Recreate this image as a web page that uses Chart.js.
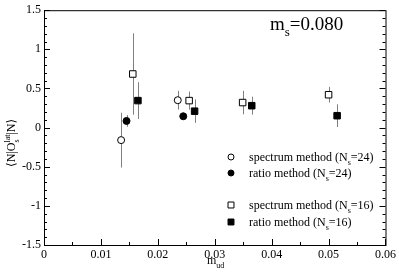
<!DOCTYPE html>
<html>
<head>
<meta charset="utf-8">
<script src="https://cdn.jsdelivr.net/npm/chart.js@4/dist/chart.umd.min.js"></script>
<style>
html,body{margin:0;padding:0;background:#fff}
#wrap{width:399px;height:273px}
</style>
</head>
<body>
<div id="wrap"><canvas id="c"></canvas></div>
<script>
// spectrum method, Ns=24
const specX24=[0.01355,0.0235]
const specY24=[-0.16,0.35]
const specE24=[0.35,0.12]
// ratio method, Ns=24
const ratioX24=[0.0145,0.02447]
const ratioY24=[0.085,0.145]
const ratioE24=[0.075,0.02]
// spectrum method, Ns=16
const specX16=[0.0156,0.0255,0.0349,0.0500]
const specY16=[0.685,0.345,0.32,0.42]
const specE16=[0.52,0.115,0.15,0.1]
// ratio method, Ns=16
const ratioX16=[0.0165,0.02646,0.0365,0.0515]
const ratioY16=[0.345,0.21,0.28,0.152]
const ratioE16=[0.235,0.15,0.115,0.145]

const legendNames=["spectrum method","ratio method","spectrum method","ratio method"]
const legendNs=["24","24","16","16"]
const xTicks=[0,0.01,0.02,0.03,0.04,0.05,0.06]
const yTicks=[-1.5,-1,-0.5,0,0.5,1,1.5]

const FONT="'Liberation Serif','DejaVu Serif',serif"

function pts(xs,ys,es){
return xs.map((x,i)=>({x:x,y:ys[i],e:es[i]}))
}

// draw text pieces: s=0 normal, s=1 subscript
function rich(ctx,x,y,parts,size){
parts.forEach(p=>{
let fs=p.s?Math.round(size*0.7):size
ctx.font=fs+"px "+FONT
let dy=p.s==1?size*0.3:(p.s==-1?-size*0.4:0)
ctx.fillText(p.t,x,y+dy)
x+=ctx.measureText(p.t).width
})
return x
}

const errorBars={
id:'errorBars',
beforeDatasetsDraw(chart){
let ctx=chart.ctx
let ys=chart.scales.y,xs=chart.scales.x
ctx.save()
ctx.strokeStyle="#808080"
ctx.lineWidth=1
chart.data.datasets.forEach(ds=>{
ds.data.forEach(p=>{
let px=Math.round(xs.getPixelForValue(p.x))+0.5
ctx.beginPath()
ctx.moveTo(px,ys.getPixelForValue(p.y+p.e))
ctx.lineTo(px,ys.getPixelForValue(p.y-p.e))
ctx.stroke()
})
})
ctx.restore()
}
}

const frame={
id:'frame',
afterDraw(chart){
let ctx=chart.ctx
let a=chart.chartArea
let xs=chart.scales.x,ys=chart.scales.y
ctx.save()
ctx.strokeStyle="#000"
ctx.lineWidth=1
ctx.strokeRect(a.left+0.5,a.top+0.5,a.right-a.left,a.bottom-a.top)
ctx.beginPath()
// x ticks, bottom, inward
for(let v=0;v<=0.0601;v+=0.005){
let px=Math.round(xs.getPixelForValue(v))+0.5
let major=Math.abs(v/0.01-Math.round(v/0.01))<1e-6
ctx.moveTo(px,a.bottom)
ctx.lineTo(px,a.bottom-(major?6:3))
}
// y ticks, left and right, inward
for(let i=-15;i<=15;i++){
let py=Math.round(ys.getPixelForValue(i/10))+0.5
let major=i%5==0
ctx.moveTo(a.left,py)
ctx.lineTo(a.left+(major?6:3),py)
ctx.moveTo(a.right,py)
ctx.lineTo(a.right-(major?6:3),py)
}
ctx.stroke()

ctx.fillStyle="#000"
ctx.textBaseline="alphabetic"
ctx.textAlign="left"
// x title
rich(ctx,207,264,[{t:"m",s:0},{t:"ud",s:1}],12)
// mass label
rich(ctx,270,30,[{t:"m",s:0},{t:"s",s:1},{t:"=0.080",s:0}],19)

// y title, rotated
ctx.save()
ctx.translate(15,167)
ctx.rotate(-Math.PI/2)
let x=rich(ctx,0,0,[{t:"\u27E8N|O",s:0}],12)
ctx.font="8px "+FONT
let w=Math.max(ctx.measureText("s").width,ctx.measureText("lat").width)
ctx.fillText("s",x,3.6)
ctx.fillText("lat",x,-5)
rich(ctx,x+w,0,[{t:"|N\u27E9",s:0}],12)
ctx.restore()

// legend
let rows=[157,173,205,222]
chart.data.datasets.forEach((ds,i)=>{
let o={pointStyle:ds.pointStyle,radius:ds.pointStyle=='rect'?4.2:3,rotation:0,borderWidth:1}
ctx.fillStyle=ds.backgroundColor
ctx.strokeStyle=ds.borderColor
ctx.lineWidth=1
Chart.helpers.drawPoint(ctx,o,231,rows[i])
ctx.fillStyle="#000"
rich(ctx,249,rows[i]+4,[{t:legendNames[i]+" (N",s:0},{t:"s",s:1},{t:"="+legendNs[i]+")",s:0}],12)
})
ctx.restore()
}
}

new Chart(document.getElementById("c"),{
type:'scatter',
data:{
datasets:[
{label:'spectrum24',data:pts(specX24,specY24,specE24),pointStyle:'circle',pointRadius:3.5,backgroundColor:'#fff',borderColor:'#000',borderWidth:1},
{label:'ratio24',data:pts(ratioX24,ratioY24,ratioE24),pointStyle:'circle',pointRadius:3.5,backgroundColor:'#000',borderColor:'#000',borderWidth:1},
{label:'spectrum16',data:pts(specX16,specY16,specE16),pointStyle:'rect',pointRadius:4.6,backgroundColor:'#fff',borderColor:'#000',borderWidth:1},
{label:'ratio16',data:pts(ratioX16,ratioY16,ratioE16),pointStyle:'rect',pointRadius:4.6,backgroundColor:'#000',borderColor:'#000',borderWidth:1}
]
},
options:{
responsive:true,
maintainAspectRatio:false,
animation:false,
layout:{padding:{top:5,right:11,left:0,bottom:0}},
plugins:{legend:{display:false},tooltip:{enabled:false}},
scales:{
x:{
type:'linear',min:0,max:0.06,
afterFit(s){s.height=28},
afterBuildTicks(s){s.ticks=xTicks.map(v=>({value:v}))},
grid:{display:false,drawTicks:false},
border:{display:false},
ticks:{padding:3,color:'#000',font:{family:FONT,size:12},maxRotation:0,autoSkip:false,
callback:v=>v==0?"0":v.toFixed(2)}
},
y:{
type:'linear',min:-1.5,max:1.5,
afterFit(s){s.width=44},
afterBuildTicks(s){s.ticks=yTicks.map(v=>({value:v}))},
grid:{display:false,drawTicks:false},
border:{display:false},
ticks:{padding:3,color:'#000',font:{family:FONT,size:12},autoSkip:false,
callback:v=>String(v)}
}
}
},
plugins:[errorBars,frame]
})
</script>
</body>
</html>
